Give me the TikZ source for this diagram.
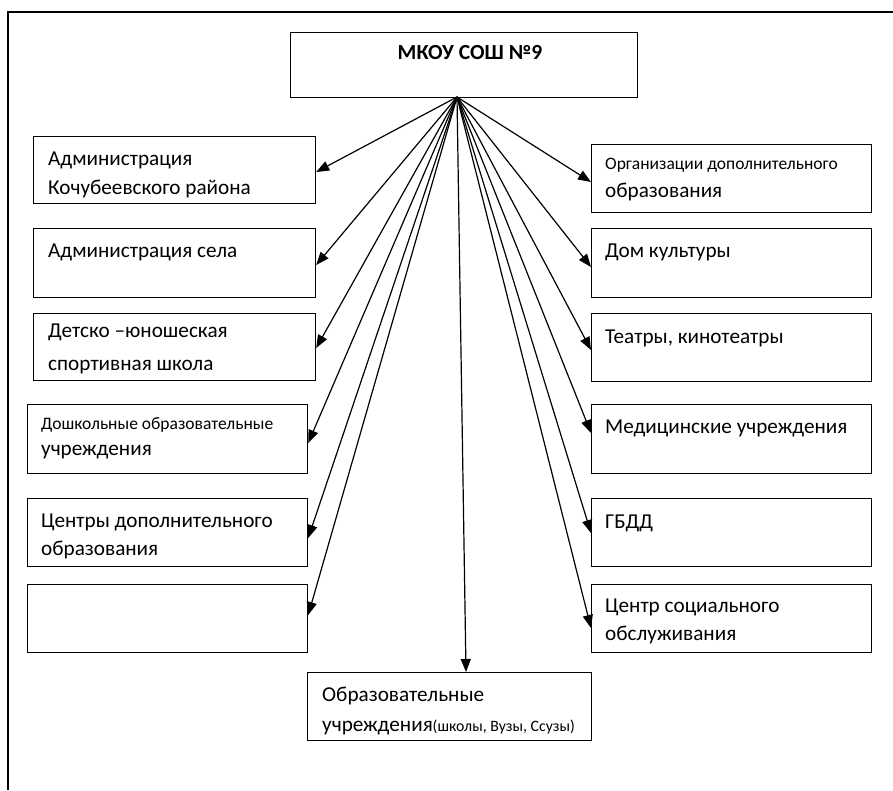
\documentclass[tikz,border=0pt]{standalone}
\usepackage{fontspec}
\setmainfont{Carlito}
\usetikzlibrary{arrows.meta}
\tikzset{
  box/.style={draw=black, line width=1.2pt, fill=white, inner sep=0pt, anchor=north west},
  txt/.style={anchor=base west, inner sep=0pt, font=\fontsize{21.2}{24}\selectfont},
  smalltxt/.style={anchor=base west, inner sep=0pt, font=\fontsize{17.5}{20}\selectfont},
  arr/.style={draw=black, line width=1.2pt, -{Triangle[length=13pt,width=10pt]}},
  frame/.style={draw=black, line width=1.1pt}
}
\begin{document}
\begin{tikzpicture}[x=1pt,y=-1pt]
\useasboundingbox (0,0) rectangle (893,790);
\draw[frame] (8,790) -- (8,12) -- (893,12);
% top
\node[box, minimum width=347pt, minimum height=65pt] (top) at (290,32) {};
\node[anchor=base, inner sep=0pt, font=\fontsize{21.5}{24}\selectfont\bfseries] (topt) at (470,59) {МКОУ СОШ №9};
\coordinate (src) at (457,97);
% left boxes
\node[box, minimum width=282pt, minimum height=67pt] (l1) at (33,136) {};
\node[txt] (l1a) at (48,165) {Администрация};
\node[txt] (l1b) at (48,194) {Кочубеевского района};
\node[box, minimum width=282pt, minimum height=69pt] (l2) at (33,228) {};
\node[txt] (l2a) at (48,257) {Администрация села};
\node[box, minimum width=282pt, minimum height=67pt] (l3) at (33,313) {};
\node[txt] (l3a) at (48,337) {Детско –юношеская};
\node[txt] (l3b) at (48,370) {спортивная школа};
\node[box, minimum width=280pt, minimum height=69pt] (l4) at (27,404) {};
\node[smalltxt] (l4a) at (41,429) {Дошкольные образовательные};
\node[txt] (l4b) at (41,455) {учреждения};
\node[box, minimum width=280pt, minimum height=68pt] (l5) at (27,498) {};
\node[txt] (l5a) at (41,527) {Центры дополнительного};
\node[txt] (l5b) at (41,555) {образования};
\node[box, minimum width=280pt, minimum height=68pt] (l6) at (27,584) {};
% right boxes
\node[box, minimum width=280pt, minimum height=68pt] (r1) at (591,144) {};
\node[smalltxt] (r1a) at (605,169) {Организации дополнительного};
\node[txt] (r1b) at (605,197) {образования};
\node[box, minimum width=280pt, minimum height=69pt] (r2) at (591,228) {};
\node[txt] (r2a) at (605,257) {Дом культуры};
\node[box, minimum width=280pt, minimum height=68pt] (r3) at (591,313) {};
\node[txt] (r3a) at (605,343) {Театры, кинотеатры};
\node[box, minimum width=280pt, minimum height=69pt] (r4) at (591,404) {};
\node[txt] (r4a) at (605,433) {Медицинские учреждения};
\node[box, minimum width=280pt, minimum height=68pt] (r5) at (591,498) {};
\node[txt] (r5a) at (605,528) {ГБДД};
\node[box, minimum width=280pt, minimum height=68pt] (r6) at (591,584) {};
\node[txt] (r6a) at (605,612) {Центр социального};
\node[txt] (r6b) at (605,640) {обслуживания};
% bottom
\node[box, minimum width=284pt, minimum height=68pt] (bot) at (307,672) {};
\node[txt] (ba) at (322,701) {Образовательные};
\node[txt] (bb) at (322,731) {учреждения{\fontsize{15.8}{18}\selectfont(школы, Вузы, Ссузы)}};
% arrows
\draw[arr] (src) -- ([yshift=-36pt]l1.north east);
\draw[arr] (src) -- ([yshift=-37pt]l2.north east);
\draw[arr] (src) -- ([yshift=-35pt]l3.north east);
\draw[arr] (src) -- ([yshift=-39pt]l4.north east);
\draw[arr] (src) -- ([yshift=-40pt]l5.north east);
\draw[arr] (src) -- ([yshift=-31pt]l6.north east);
\draw[arr] (src) -- ([yshift=-38pt]r1.north west);
\draw[arr] (src) -- ([yshift=-39pt]r2.north west);
\draw[arr] (src) -- ([yshift=-37pt]r3.north west);
\draw[arr] (src) -- ([yshift=-29pt]r4.north west);
\draw[arr] (src) -- ([yshift=-35pt]r5.north west);
\draw[arr] (src) -- ([yshift=-44pt]r6.north west);
\draw[arr] (src) -- ([xshift=159pt]bot.north west);
\end{tikzpicture}
\end{document}
